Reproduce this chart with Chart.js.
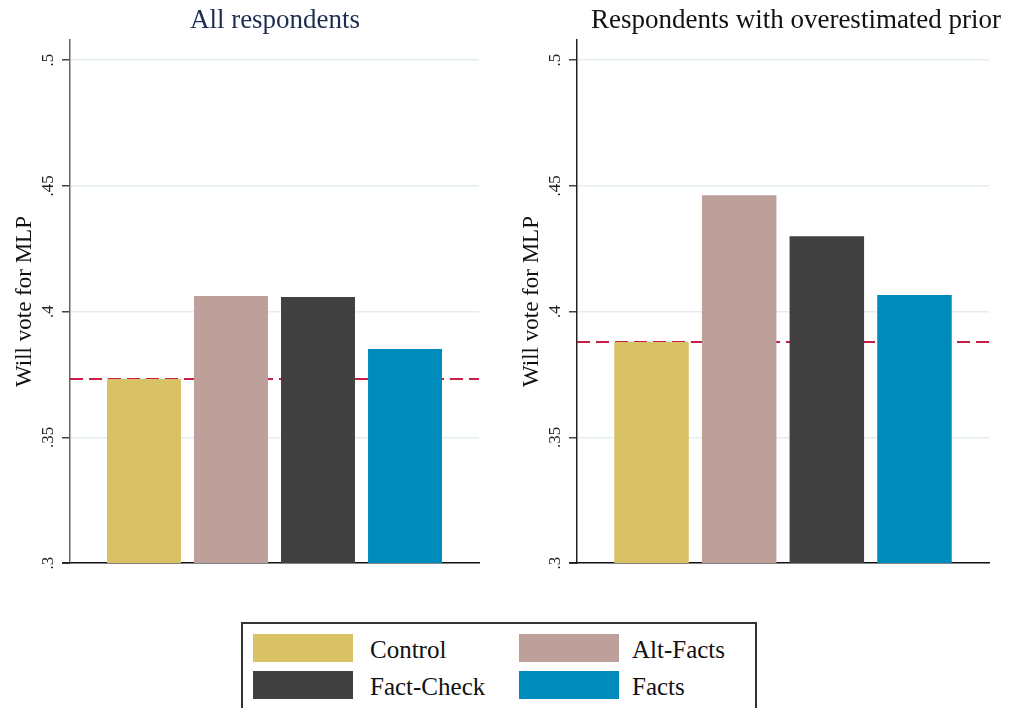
<!DOCTYPE html>
<html>
<head>
<meta charset="utf-8">
<script src="https://cdn.jsdelivr.net/npm/chart.js@4.4.0/dist/chart.umd.min.js"></script>
<style>
  body { margin: 0; background: #fff; width: 1010px; height: 708px; overflow: hidden; position: relative; font-family: "Liberation Serif", serif; }
  .panel { position: absolute; top: 0; width: 505px; height: 600px; }
  #legend { position: absolute; left: 241px; top: 622px; width: 516px; height: 100px; border: 2px solid #333; box-sizing: border-box; }
  .item { position: absolute; font-size: 25px; color: #111; line-height: 30px; }
  .sw { position: absolute; width: 100px; height: 28px; }
</style>
</head>
<body>
<div class="panel" style="left:0"><canvas id="c1"></canvas></div>
<div class="panel" style="left:507px"><canvas id="c2"></canvas></div>
<div id="legend"></div>
<script>
// datos
const grupos = ['Control', 'Alt-Facts', 'Fact-Check', 'Facts'];
const colores = ['#d9c266', '#bea09a', '#414141', '#008bbd'];
const todos = [0.3732, 0.4062, 0.4058, 0.3851];
const sobreestimado = [0.3879, 0.4463, 0.4300, 0.4066];
const yTicks = [0.3, 0.35, 0.4, 0.45, 0.5];
const yTickLabels = ['.3', '.35', '.4', '.45', '.5'];

// linea discontinua al nivel del grupo control
const lineaControl = {
  id: 'lineaControl',
  beforeDatasetsDraw(chart) {
    const y = chart.scales.y.getPixelForValue(chart.data.datasets[0].data[0]);
    const a = chart.chartArea;
    const ctx = chart.ctx;
    ctx.save();
    ctx.strokeStyle = '#c81e45';
    ctx.lineWidth = 2;
    ctx.setLineDash([13, 6]);
    ctx.beginPath();
    ctx.moveTo(a.left, y);
    ctx.lineTo(a.right, y);
    ctx.stroke();
    ctx.restore();
  }
};

// titulo y etiquetas del eje y giradas
const extras = {
  id: 'extras',
  afterDraw(chart, args, opts) {
    const s = chart.scales.y;
    const ctx = chart.ctx;
    ctx.save();
    // titulo del panel
    ctx.fillStyle = opts.color;
    ctx.font = '27px "Liberation Serif"';
    ctx.textAlign = 'center';
    ctx.textBaseline = 'alphabetic';
    ctx.fillText(opts.text, opts.x, 28);
    // ticks
    ctx.fillStyle = '#222';
    ctx.font = '17px "Liberation Serif"';
    yTicks.forEach((v, i) => {
      ctx.save();
      ctx.translate(s.right - 17, s.getPixelForValue(v));
      ctx.rotate(-Math.PI / 2);
      ctx.fillText(yTickLabels[i], 0, 0);
      ctx.restore();
    });
    // extension de la linea base hacia la izquierda
    ctx.strokeStyle = '#111';
    ctx.lineWidth = 1.5;
    ctx.beginPath();
    ctx.moveTo(s.right - 8, chart.chartArea.bottom);
    ctx.lineTo(chart.chartArea.left, chart.chartArea.bottom);
    ctx.stroke();
    ctx.restore();
  }
};

function crear(id, titulo, colorTitulo, tituloX, valores, colorEje, padDer) {
  const ctx = document.getElementById(id).getContext('2d');
  return new Chart(ctx, {
    type: 'bar',
    data: {
      labels: [''],
      datasets: grupos.map((g, i) => ({
        label: g,
        data: [valores[i]],
        backgroundColor: colores[i],
        categoryPercentage: 0.851,
        barPercentage: 0.85
      }))
    },
    options: {
      responsive: false,
      animation: false,
      layout: { padding: { left: 0, right: padDer, top: 40, bottom: 37 } },
      plugins: {
        legend: { display: false },
        tooltip: { enabled: false },
        title: { display: false },
        extras: { text: titulo, color: colorTitulo, x: tituloX }
      },
      scales: {
        x: {
          grid: { display: false },
          ticks: { display: false },
          border: { display: true, color: '#111', width: 1.5 },
          afterFit: s => { s.height = 0; }
        },
        y: {
          min: 0.3,
          max: 0.508,
          afterBuildTicks: s => { s.ticks = yTicks.map(v => ({ value: v })); },
          ticks: { display: false },
          grid: { color: '#e3edf0', lineWidth: 1.5, tickColor: '#444', tickLength: 8 },
          border: { display: true, color: colorEje, width: 1.5 },
          title: {
            display: true,
            text: 'Will vote for MLP',
            color: '#111',
            font: { family: 'Liberation Serif', size: 23 },
            padding: { top: 11, bottom: 0 }
          },
          afterFit: s => { s.width = 70; }
        }
      }
    },
    plugins: [lineaControl, extras]
  });
}

document.getElementById('c1').width = 505;
document.getElementById('c1').height = 600;
document.getElementById('c2').width = 505;
document.getElementById('c2').height = 600;
crear('c1', 'All respondents', '#1f2d52', 275, todos, '#666', 26);
crear('c2', 'Respondents with overestimated prior', '#111', 289, sobreestimado, '#222', 23);

// leyenda
const leyenda = document.getElementById('legend');
const pos = [[10, 10, 117], [276, 10, 113], [10, 47, 117], [276, 47, 113]];
grupos.forEach((g, i) => {
  const sw = document.createElement('div');
  sw.className = 'sw';
  sw.style.left = pos[i][0] + 'px';
  sw.style.top = pos[i][1] + 'px';
  sw.style.background = colores[i];
  leyenda.appendChild(sw);
  const t = document.createElement('div');
  t.className = 'item';
  t.textContent = g;
  t.style.left = (pos[i][0] + pos[i][2]) + 'px';
  t.style.top = (pos[i][1] + 1) + 'px';
  leyenda.appendChild(t);
});
</script>
</body>
</html>
